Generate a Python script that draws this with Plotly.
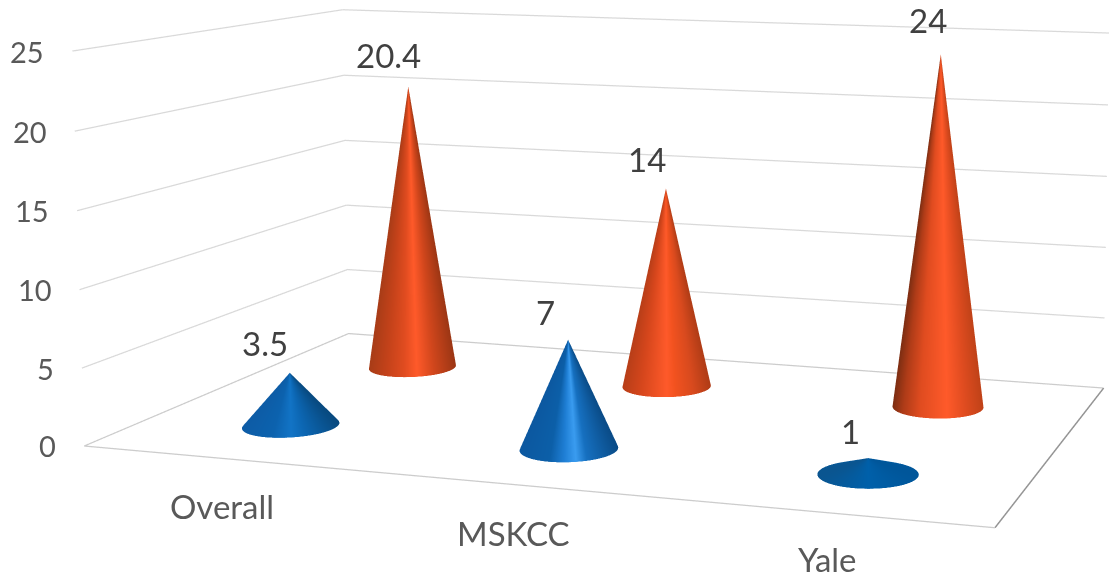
import numpy as np
import plotly.graph_objects as go

categories = ["Overall", "MSKCC", "Yale"]
series_a = [3.5, 7, 1]
series_b = [20.4, 14, 24]
z_ticks = [0, 5, 10, 15, 20, 25]

# Camera and box proportions of the 3D scene
eye = (1.844, -4.477, 0.859)
center = (0.531, 0.218, 0.364)
up = (-0.006, 0, 1)
aspect = (1.883, 1.076, 0.800)
depth_a, depth_b = 0.244, 0.748  # row positions on the floor
focal, px, py = 2305.164, 890.973, 57.199  # focal length and optical centre in page pixels

# Label nudges in pixels, one per point
shift_a = [(-25, 30), (-23, 28), (-18, 27)]
shift_b = [(-20, 32), (-19, 30), (-13, 34)]
shift_cat = [(0, -48), (0, -48), (-1, -46)]

# Shading across each cone, left silhouette to right silhouette
shade_a = [
    [[0, "#0d5ca6"], [.3, "#0c62ae"], [.5, "#1274c6"], [.65, "#0c66b2"], [1, "#084a80"]],
    [[0, "#0c58a0"], [.3, "#0c5fa8"], [.45, "#1f7fd5"], [.57, "#3a9cf0"], [.68, "#1670c0"], [1, "#0a4c88"]],
    [[0, "#0a5590"], [.5, "#0060aa"], [1, "#00569a"]],
]
shade_b = [
    [[0, "#a83c17"], [.2, "#c4421a"], [.4, "#e04c20"], [.55, "#ff5a2a"], [.75, "#d0461c"], [1, "#9c3614"]],
    [[0, "#b83e18"], [.2, "#d5461c"], [.5, "#ff5a2a"], [.6, "#f2521f"], [.8, "#d84a1e"], [1, "#b03c16"]],
    [[0, "#7d2e12"], [.12, "#b03c18"], [.3, "#e04c20"], [.6, "#ff5a2a"], [.8, "#e04c20"], [1, "#c04218"]],
]

# Plotly's field of view is fixed, so the scene size sets the focal length
SH = focal * np.tan(np.pi / 8) * 2
SW = 2 * max(px, 1109 - px) + 4
left = px - SW / 2
top = py - SH / 2

fig = go.Figure()
grid = dict(mode="lines", showlegend=False, hoverinfo="skip")
for z in z_ticks[1:]:
    fig.add_trace(go.Scatter3d(x=[0, 0, 3], y=[0, 1, 1], z=[z, z, z], line=dict(color="#d9d9d9", width=2.5), **grid))
fig.add_trace(go.Scatter3d(x=[3, 0, 0, 3], y=[1, 1, 0, 0], z=[0, 0, 0, 0], line=dict(color="#cccccc", width=2.5), **grid))
fig.add_trace(go.Scatter3d(x=[3, 3], y=[0, 1], z=[0, 0], line=dict(color="#949494", width=3), **grid))

rx = 0.157
ry = rx * (aspect[0] / 3) / aspect[1]
theta = np.linspace(0, 2 * np.pi, 241)
t = np.linspace(0, 1, 25)
TH, T = np.meshgrid(theta, t)
for vals, yc, shades in ((series_a, depth_a, shade_a), (series_b, depth_b, shade_b)):
    for i, v in enumerate(vals):
        xc = i + .5
        front = np.arctan2(eye[1] - (yc - .5) * aspect[1], eye[0] - (xc / 3 - .5) * aspect[0])
        fig.add_trace(go.Surface(
            x=xc + rx * (1 - T) * np.cos(TH), y=yc + ry * (1 - T) * np.sin(TH), z=v * T,
            surfacecolor=np.sin(TH - front), cmin=-1, cmax=1, colorscale=shades[i], showscale=False, hoverinfo="skip",
            lighting=dict(ambient=1, diffuse=0, specular=0, fresnel=0, roughness=1)))

ann = []
for z in z_ticks:
    ann.append(dict(x=0, y=0, z=z, text=str(z), showarrow=False, xanchor="right", xshift=-26,
                    font=dict(family="Lato", size=29, color="#595959")))
for i, c in enumerate(categories):
    ann.append(dict(x=i + .5, y=0, z=0, text=c, showarrow=False, xshift=shift_cat[i][0], yshift=shift_cat[i][1],
                    font=dict(family="Lato", size=33, color="#595959")))
for vals, yc, shifts in ((series_a, depth_a, shift_a), (series_b, depth_b, shift_b)):
    for i, v in enumerate(vals):
        ann.append(dict(x=i + .5, y=yc, z=v, text=str(v), showarrow=False, xshift=shifts[i][0], yshift=shifts[i][1],
                        font=dict(family="Lato", size=33, color="#404040")))

hidden = dict(visible=False, showgrid=False, zeroline=False, showspikes=False, autorange=False)
fig.update_layout(
    width=int(round(SW)), height=int(round(SH)), margin=dict(l=0, r=0, t=0, b=0),
    paper_bgcolor="white", showlegend=False,
    scene=dict(
        domain=dict(x=[0, 1], y=[0, 1]), dragmode="orbit",
        xaxis=dict(range=[0, 3], **hidden), yaxis=dict(range=[0, 1], **hidden), zaxis=dict(range=[0, 25], **hidden),
        aspectmode="manual", aspectratio=dict(x=aspect[0], y=aspect[1], z=aspect[2]),
        camera=dict(eye=dict(x=eye[0], y=eye[1], z=eye[2]), center=dict(x=center[0], y=center[1], z=center[2]),
                    up=dict(x=up[0], y=up[1], z=up[2]), projection=dict(type="perspective")),
        annotations=ann))
post = ("var g=document.getElementById('{plot_id}');g.style.position='absolute';g.style.left='%dpx';g.style.top='%dpx';"
        "document.documentElement.style.overflow='hidden';document.body.style.overflow='hidden';") % (round(left), round(top))
fig.write_html("out.html", post_script=post, default_width="%dpx" % round(SW), default_height="%dpx" % round(SH))
